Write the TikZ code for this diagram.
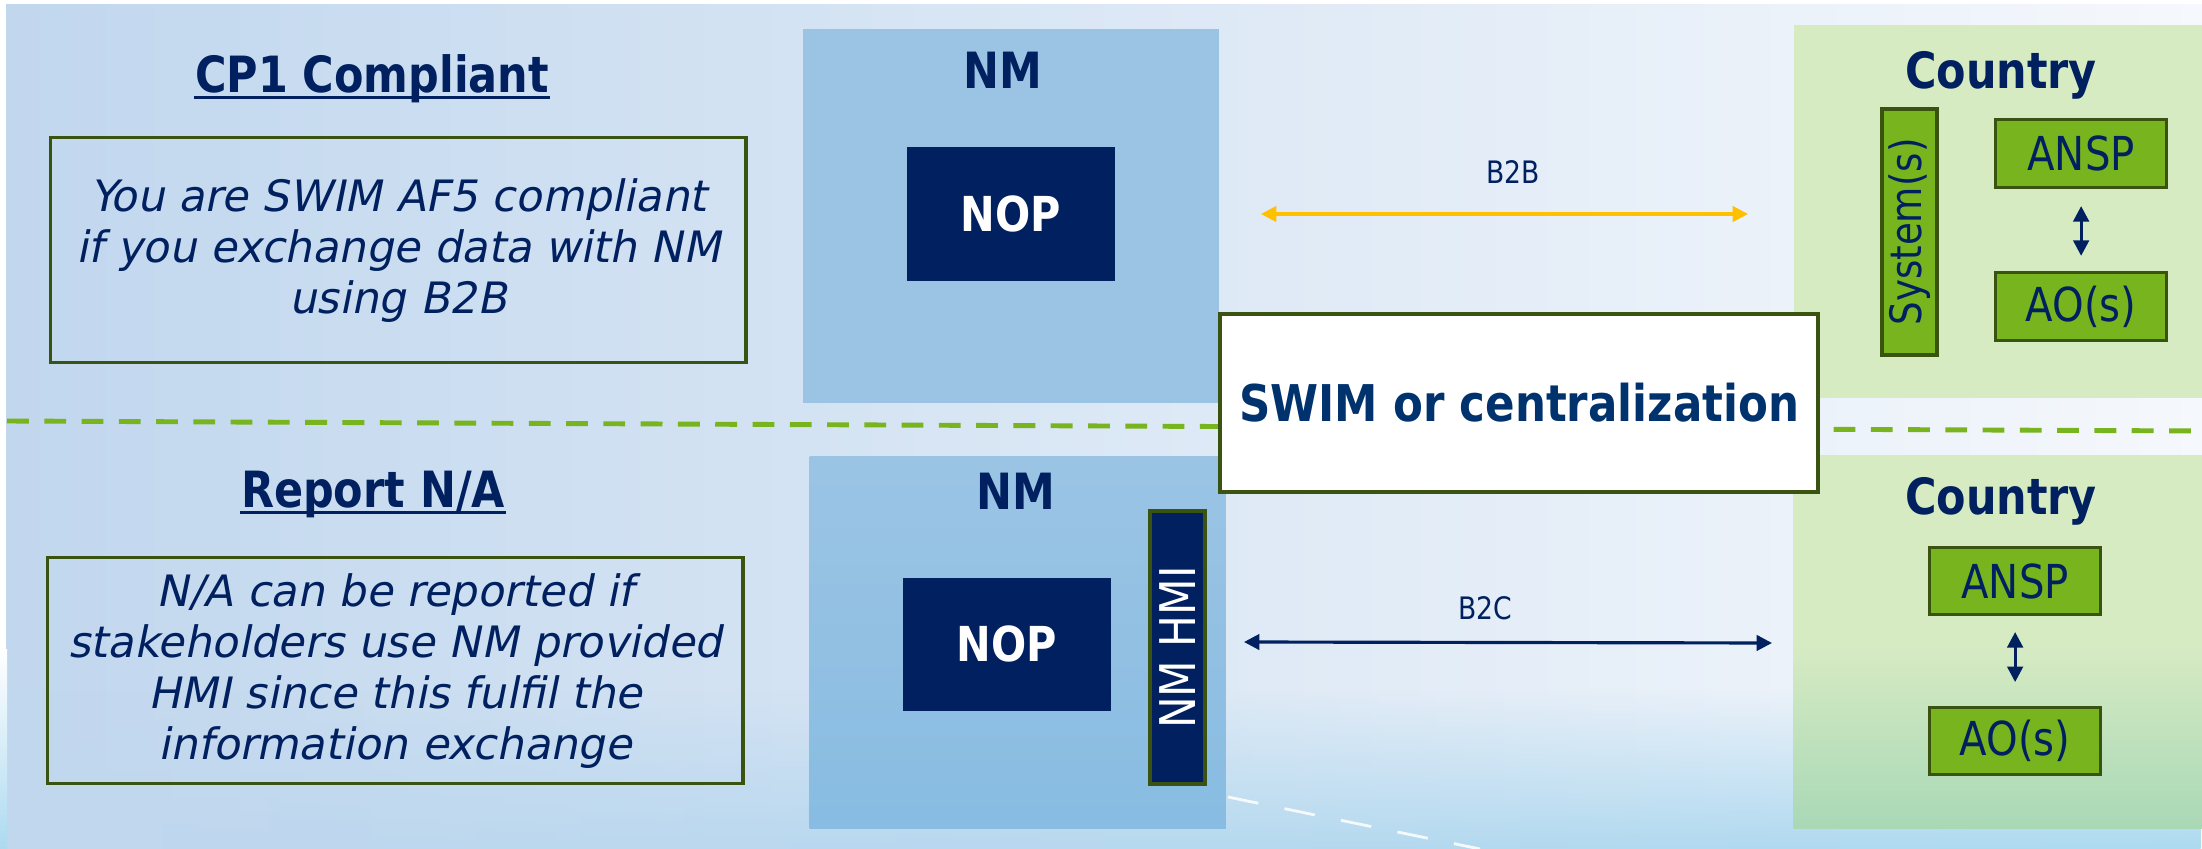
\documentclass[tikz,border=0pt]{standalone}
\usepackage{fontspec}
\setmainfont{DejaVu Sans}
\newfontfamily\tahoma[FakeStretch=0.86]{DejaVu Sans}
\newfontfamily\verdit[FakeSlant=0.2]{DejaVu Sans}
\usetikzlibrary{arrows.meta,fadings}
\definecolor{navy}{HTML}{002060}
\definecolor{swimblue}{HTML}{00336E}
\definecolor{nmblue}{HTML}{9BC4E4}
\definecolor{nmdeep}{HTML}{88BCE2}
\definecolor{leaf}{HTML}{D7EBC3}
\definecolor{leafdeep}{HTML}{A9D8B6}
\definecolor{grass}{HTML}{78B41E}
\definecolor{olive}{HTML}{3A5311}
\definecolor{amber}{HTML}{FFC000}
\definecolor{bgleft}{HTML}{C1D7EE}
\definecolor{bgright}{HTML}{F5F8FC}
\definecolor{bgsea}{HTML}{ACDAF0}

\begin{document}
\begin{tikzpicture}[x=0.01cm,y=-0.01cm]
\tikzset{title/.style={font=\tahoma\bfseries\fontsize{14.2}{16}\selectfont,text=navy,inner sep=0pt,anchor=base}}
\tikzset{notebox/.style={draw=olive,line width=0.9pt,align=center,text=navy,font=\verdit\fontsize{12.3}{14.5}\selectfont,anchor=north west}}
\tikzset{nmbox/.style={anchor=north west,inner sep=0pt}}
\tikzset{nopbox/.style={fill=navy,text=white,font=\tahoma\bfseries\fontsize{13.7}{16}\selectfont,anchor=north west,inner sep=0pt}}
\tikzset{actor/.style={draw=olive,fill=grass,line width=0.9pt,text=navy,font=\tahoma\fontsize{13.3}{15}\selectfont,anchor=north west,inner sep=0pt}}
\tikzset{tag/.style={text=navy,font=\tahoma\fontsize{8.8}{10}\selectfont,inner sep=0pt}}
\tikzset{link/.style={line width=0.9pt,{Triangle[length=4.4pt,width=4.4pt]}-{Triangle[length=4.4pt,width=4.4pt]}}}

\useasboundingbox (0,0) rectangle (2202,849);
\fill[white] (0,0) rectangle (2202,849);
\shade[left color=bgleft,right color=bgright] (6,5) rectangle (2202,849);
\shade[left color=bgleft,middle color=bgsea,right color=bgsea,path fading=north] (6,690) rectangle (2202,849);
\shade[top color=white,bottom color=bgsea] (0,650) rectangle (7,849);
\draw[white,opacity=0.85,line width=0.8pt,dash pattern=on 8.8pt off 7.6pt] (1228,797) -- (1480,849);

\draw[grass,line width=1.4pt,dash pattern=on 6.2pt off 4.4pt] (7,421) -- (2202,431);

\node[title] (cpone) at (372,93) {CP1 Compliant};
\draw[navy,line width=0.85pt] ([yshift=-1.4pt]cpone.base west) -- ([yshift=-1.4pt]cpone.base east);
\node[notebox,minimum width=6.95cm,minimum height=2.25cm] (cponenote) at (49,136)
  {You are SWIM AF5 compliant\\if you exchange data with NM\\using B2B};

\node[nmbox,fill=nmblue,minimum width=4.16cm,minimum height=3.74cm] (nmtop) at (802,28) {};
\node[title] (nmtoplabel) at (1003,89) {NM};
\node[nopbox,minimum width=2.08cm,minimum height=1.34cm] (noptop) at (906,146) {NOP};

\coordinate (btobl) at (1261,214);
\coordinate (btobr) at (1748,214);
\draw[link,amber] (btobl) -- (btobr);
\node[tag] (btoblabel) at (1513,172) {B2B};

\node[nmbox,fill=leaf,minimum width=4.09cm,minimum height=3.73cm] (ctop) at (1793,24) {};
\node[title] (ctoplabel) at (2001,89) {Country};
\node[actor,anchor=center,rotate=90,minimum width=2.46cm,minimum height=0.55cm,font=\tahoma\fontsize{12.3}{14}\selectfont] (systems) at (1909.5,232) {System(s)};
\node[actor,minimum width=1.71cm,minimum height=0.68cm] (ansptop) at (1994,118) {ANSP};
\node[actor,minimum width=1.71cm,minimum height=0.68cm] (aotop) at (1994,271) {AO(s)};
\draw[link,navy,shorten <=4.8pt,shorten >=4.3pt] (ansptop.south) -- (aotop.north);

\node[title] (report) at (373,508) {Report N/A};
\draw[navy,line width=0.85pt] ([yshift=-1.4pt]report.base west) -- ([yshift=-1.4pt]report.base east);
\node[notebox,minimum width=6.95cm,minimum height=2.26cm] (reportnote) at (46,556)
  {N/A can be reported if\\stakeholders use NM provided\\HMI since this fulfil the\\information exchange};

\node[nmbox,top color=nmblue,bottom color=nmdeep,minimum width=4.16cm,minimum height=3.72cm] (nmbot) at (809,456) {};
\node[title] (nmbotlabel) at (1016,510) {NM};
\node[nopbox,minimum width=2.08cm,minimum height=1.33cm] (nopbot) at (902,577) {NOP};
\node[draw=olive,fill=navy,line width=0.9pt,text=white,font=\tahoma\fontsize{14}{16}\selectfont,inner sep=0pt,rotate=90,minimum width=2.73cm,minimum height=0.55cm] (nmhmi) at (1177.5,647.5) {NM HMI};

\coordinate (btocl) at (1244,642);
\coordinate (btocr) at (1772,643);
\draw[link,navy] (btocl) -- (btocr);
\node[tag] (btoclabel) at (1485,608) {B2C};

\node[nmbox,top color=leaf,bottom color=leafdeep,middle color=leaf,minimum width=4.09cm,minimum height=3.73cm] (cbot) at (1793,455) {};
\node[title] (cbotlabel) at (2001,515) {Country};
\node[actor,minimum width=1.71cm,minimum height=0.67cm] (anspbot) at (1928,546) {ANSP};
\node[actor,minimum width=1.71cm,minimum height=0.67cm] (aobot) at (1928,706) {AO(s)};
\draw[link,navy,shorten <=4.5pt,shorten >=6.8pt] (anspbot.south) -- (aobot.north);

\node[draw=olive,line width=1.1pt,fill=white,anchor=north west,inner sep=0pt,minimum width=5.98cm,minimum height=1.78cm,text=swimblue,font=\tahoma\bfseries\fontsize{14.4}{16}\selectfont] (swim) at (1218,312) {SWIM or centralization};

\end{tikzpicture}
\end{document}
